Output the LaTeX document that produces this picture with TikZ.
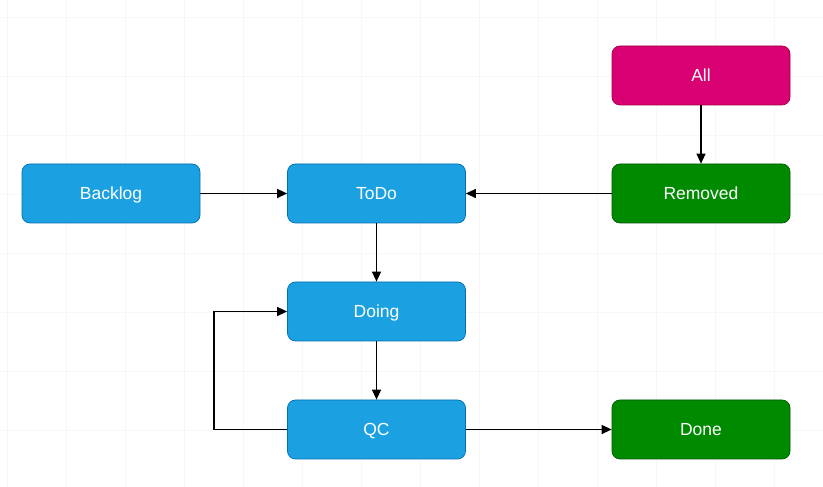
\documentclass[tikz,border=0pt]{standalone}
\usepackage{fontspec}
\setmainfont{Liberation Sans}
\usetikzlibrary{arrows.meta}
\definecolor{blueF}{HTML}{1BA1E2}
\definecolor{blueS}{HTML}{006EAF}
\definecolor{greenF}{HTML}{008A00}
\definecolor{greenS}{HTML}{005700}
\definecolor{pinkF}{HTML}{D80073}
\definecolor{pinkS}{HTML}{A50040}
\definecolor{gridc}{HTML}{F7F7F7}
\begin{document}
\begin{tikzpicture}[x=1pt,y=1pt,
  box/.style={rounded corners=8pt, minimum width=178pt, minimum height=59pt,
    line width=0.7pt, text=white, inner sep=0pt, text height=12pt, text depth=0pt,
    font=\fontsize{17.5}{20}\selectfont},
  bluebox/.style={box, fill=blueF, draw=blueS},
  greenbox/.style={box, fill=greenF, draw=greenS},
  pinkbox/.style={box, fill=pinkF, draw=pinkS},
  link/.style={line width=1.3pt, -{Triangle[length=10pt,width=9pt]}}]
  % canvas and background grid
  \fill[white] (0,0) rectangle (823,487);
  \useasboundingbox (0,0) rectangle (823,487);
  \foreach \gx in {7,66,...,823} \draw[gridc, line width=0.8pt] (\gx,0) -- (\gx,487);
  \foreach \gy in {470,411,...,0} \draw[gridc, line width=0.8pt] (0,\gy) -- (823,\gy);
  % states
  \node[bluebox]  (backlog) at (111,293.5)   {Backlog};
  \node[bluebox]  (todo)    at (376.5,293.5) {ToDo};
  \node[bluebox]  (doing)   at (376.5,175.5) {Doing};
  \node[bluebox]  (qc)      at (376.5,57.5)  {QC};
  \node[pinkbox]  (all)     at (701,411.5)   {All};
  \node[greenbox] (removed) at (701,293.5)   {Removed};
  \node[greenbox] (done)    at (701,57.5)    {Done};
  % transitions
  \draw[link] (backlog) -- (todo);
  \draw[link] (removed) -- (todo);
  \draw[link] (all) -- (removed);
  \draw[link] (todo) -- (doing);
  \draw[link] (doing) -- (qc);
  \draw[link] (qc) -- (done);
  \coordinate (loopx) at (214,0);
  \draw[link] (qc.west) -- (qc.west -| loopx) -- (doing.west -| loopx) -- (doing.west);
\end{tikzpicture}
\end{document}
